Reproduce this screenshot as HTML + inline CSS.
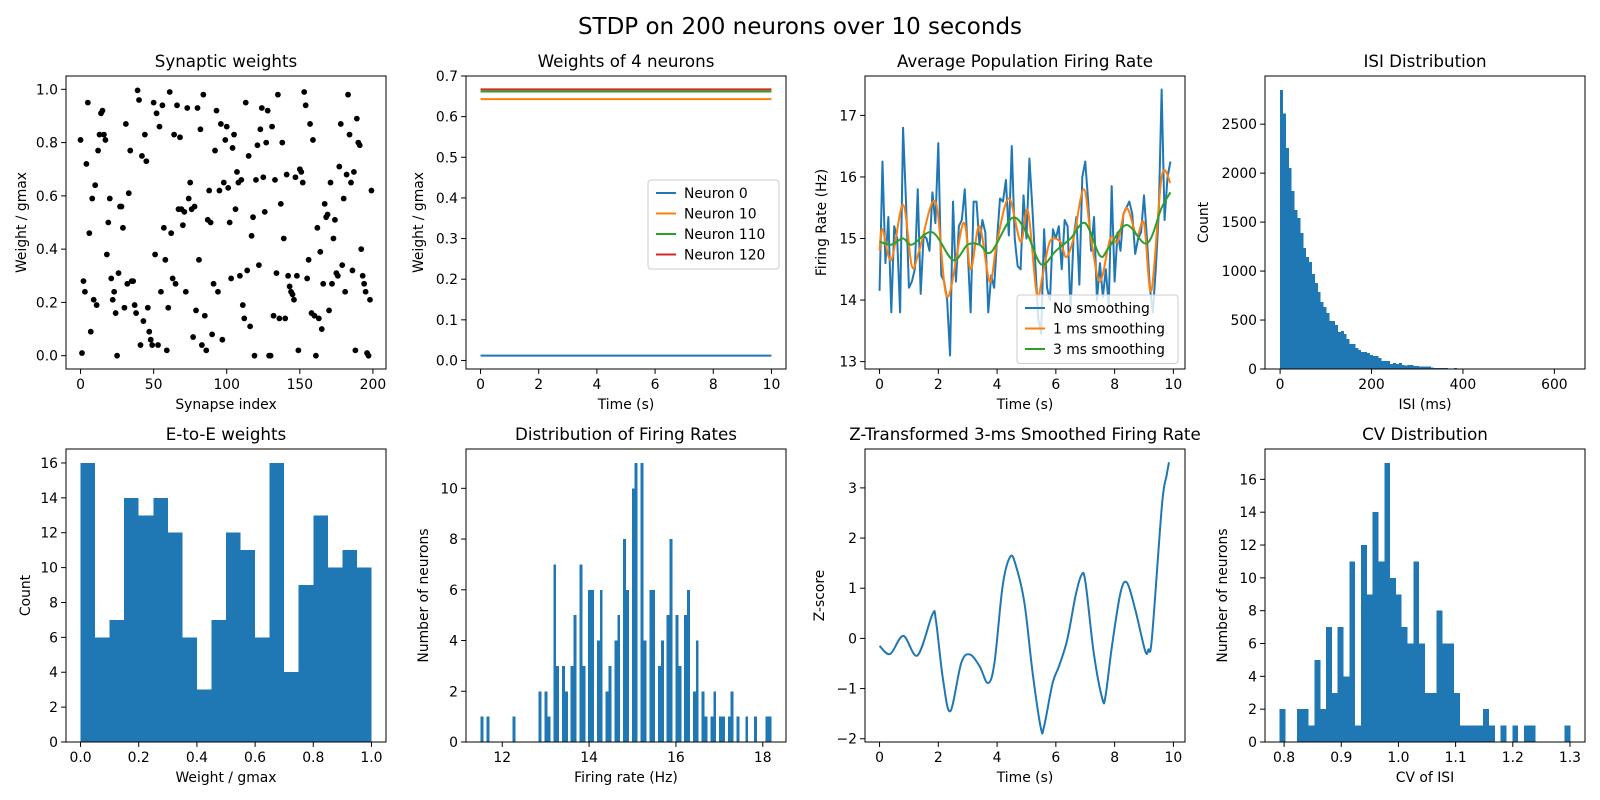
<!DOCTYPE html>
<html><head><meta charset="utf-8"><title>STDP on 200 neurons</title>
<style>
html,body{margin:0;padding:0;background:#fff;}
svg{display:block;font-family:"DejaVu Sans","Liberation Sans",sans-serif;}
</style></head>
<body>
<svg id="fig" width="1600" height="800" viewBox="0 0 1600 800" xmlns="http://www.w3.org/2000/svg">
<rect width="1600" height="800" fill="#fff"/>
<text x="800" y="34" text-anchor="middle" font-size="23">STDP on 200 neurons over 10 seconds</text>
</svg>
<script>
// ---------- data ----------
const synWeights=[.81,.01,.28,.24,.72,.95,.46,.09,.59,.21,.64,.19,.77,.83,.91,.92,.83,.81,.38,.50,.59,.29,.21,.24,.16,.00,.31,.56,.56,.48,.18,.87,.27,.61,.77,.28,.28,.19,.16,.996,.96,.04,.75,.13,.83,.73,.18,.09,.06,.04,.95,.38,.91,.04,.86,.24,.94,.48,.36,.02,.18,.99,.46,.29,.83,.27,.94,.55,.82,.55,.49,.54,.24,.93,.59,.65,.55,.07,.56,.17,.93,.36,.85,.04,.98,.15,.02,.51,.62,.50,.08,.27,.77,.92,.24,.62,.87,.06,.65,.81,.86,.63,.50,.29,.78,.83,.55,.69,.65,.30,.66,.19,.14,.95,.32,.75,.11,.45,.52,.00,.66,.79,.34,.85,.93,.67,.54,.80,.92,.00,.00,.86,.15,.66,.31,.98,.14,.57,.80,.44,.14,.68,.30,.26,.24,.23,.21,.67,.30,.02,.70,.69,.65,.99,.94,.29,.36,.87,.16,.81,.15,.00,.48,.14,.39,.10,.27,.57,.52,.53,.17,.65,.27,.44,.51,.31,.30,.71,.87,.34,.59,.24,.68,.98,.83,.65,.32,.69,.02,.89,.80,.79,.40,.30,.27,.24,.01,.00,.21,.62];
const neuronLabels=["Neuron 0","Neuron 10","Neuron 110","Neuron 120"];
const neuronWeights=[0.012,0.643,0.662,0.667];
const rateRaw=[14.15,16.25,14.6,15.35,13.8,15.2,15.0,13.8,16.8,15.6,14.2,14.3,14.5,15.8,14.1,15.05,15.0,14.8,15.75,15.25,16.55,14.4,14.3,14.0,13.1,15.6,14.3,15.2,15.3,15.8,14.8,13.8,15.6,15.6,14.9,15.3,15.1,13.8,14.4,14.2,15.0,15.65,15.6,15.95,15.05,16.5,15.0,14.55,14.5,15.7,15.0,16.3,15.5,14.6,13.7,13.45,15.15,14.2,14.0,15.15,15.0,15.2,14.5,15.3,15.2,13.8,15.0,15.35,14.25,16.0,16.25,15.6,14.8,15.35,14.0,14.6,14.05,14.5,13.9,15.85,14.3,15.1,14.8,15.4,15.5,15.6,15.4,14.75,15.0,15.1,15.7,15.0,14.2,13.8,14.5,15.4,17.42,15.3,16.0,16.25];
const rate1msT=[0,0.1,0.4,0.8,1.1,1.35,1.9,2.3,2.85,3.1,3.4,3.75,4.0,4.4,4.8,5.05,5.35,5.55,5.8,6.15,6.35,6.6,6.95,7.2,7.5,7.85,8.1,8.4,8.75,9.0,9.25,9.6,9.9];
const rate1msV=[14.8,15.15,14.65,15.55,14.55,14.8,15.6,14.05,15.25,14.5,15.2,14.3,14.95,15.65,14.95,15.45,14.1,14.4,14.95,14.95,14.7,15.0,15.8,15.0,14.3,15.0,14.95,15.5,15.05,15.25,14.15,16.0,15.9];
const rate3msT=[0,0.4,0.8,1.1,1.8,2.5,3.0,3.4,3.8,4.5,5.0,5.5,6.0,6.5,7.0,7.5,7.8,8.4,9.1,9.6,9.9];
const rate3msV=[14.95,14.9,15.0,14.9,15.1,14.65,14.9,14.9,14.78,15.33,15.1,14.58,14.8,15.0,15.25,14.72,14.85,15.22,14.92,15.5,15.75];
const isiCounts=[2850,2608,2257,2053,1818,1624,1542,1389,1236,1144,1093,970,878,786,684,633,572,490,490,449,378,388,357,306,255,255,214,194,174,174,163,143,133,133,112,82,82,82,51,61,51,61,41,34,41,41,31,31,24,24,24,24,14,12,10,10,8,9,7,6,8,5,6,5,4,5,4,3,4,3,3,3,0,0,3,0,0,0,0,0,0,0,2,0,0,0,0,2,0,0,0,0,0,0,0,0,0,0,0,1];
const eeCounts=[16,6,7,14,13,14,12,6,3,7,12,11,6,16,4,9,13,10,11,10];
const frBins=[0,2,11,20,22,23,25,26,28,29,31,32,34,35,37,38,40,41,43,44,46,47,49,50,52,53,55,56,58,59,61,62,64,65,67,68,70,71,73,74,76,77,79,80,82,83,85,86,88,91,94,98,99];
const frCounts=[1,1,1,2,2,1,7,3,3,2,3,5,7,3,6,6,4,6,2,3,4,5,8,6,10,11,11,4,6,6,3,4,5,8,5,3,5,6,2,4,2,1,1,2,1,1,1,2,1,1,1,1,1];
const zT=[0,0.36,0.81,1.29,1.80,1.92,2.16,2.41,2.78,3.07,3.40,3.69,3.91,4.19,4.45,4.64,4.93,5.21,5.49,5.60,5.89,6.11,6.39,6.67,6.88,7.01,7.29,7.58,7.69,7.91,8.20,8.42,8.70,9.04,9.15,9.27,9.61,9.77,9.85];
const zV=[-0.15,-0.31,0.05,-0.34,0.48,0.35,-0.82,-1.45,-0.49,-0.32,-0.55,-0.89,-0.49,1.05,1.63,1.45,0.71,-0.69,-1.79,-1.75,-0.89,-0.55,-0.02,0.85,1.27,1.11,-0.29,-1.20,-1.15,-0.15,0.91,1.11,0.58,-0.25,-0.22,0.01,2.65,3.25,3.51];
const cvCounts=[2,0,0,2,2,1,5,2,7,3,7,4,11,1,12,9,14,11,17,10,9,7,6,11,6,3,3,8,6,6,3,1,1,1,1,2,1,0,1,0,1,0,1,1,0,0,0,0,0,1];

// ---------- helpers ----------
const NS="http://www.w3.org/2000/svg";
const svg=document.getElementById('fig');
const C0="#1f77b4",C1="#ff7f0e",C2="#2ca02c",C3="#d62728";
function el(tag,attrs,parent){const e=document.createElementNS(NS,tag);for(const k in attrs)e.setAttribute(k,attrs[k]);(parent||svg).appendChild(e);return e;}
function mkAxes(name,L,T,W,H,xl,yl){
  const g=el('g',{});
  
  
  const sx=v=>L+(v-xl[0])/(xl[1]-xl[0])*W;
  const sy=v=>T+H-(v-yl[0])/(yl[1]-yl[0])*H;
  return {g,sx,sy,L,T,W,H};
}
function finish(a,xt,yt,fx,fy,title,xlabel,ylabel,ylx){
  const {g,sx,sy,L,T,W,H}=a;
  const fr=el('rect',{x:L,y:T,width:W,height:H,fill:'none',stroke:'#000','stroke-width':1},g);
  
  
  xt.forEach(v=>{const x=sx(v);
    el('line',{x1:x,x2:x,y1:T+H,y2:T+H+4.9,stroke:'#000','stroke-width':1},g);
    const t=el('text',{x:x,y:T+H+20,'text-anchor':'middle','font-size':13.9,fill:'#000'},g);
    
    
    t.textContent=fx(v);});
  yt.forEach(v=>{const y=sy(v);
    el('line',{x1:L-4.9,x2:L,y1:y,y2:y,stroke:'#000','stroke-width':1},g);
    const t=el('text',{x:L-8,y:y+5,'text-anchor':'end','font-size':13.9,fill:'#000'},g);
    
    
    t.textContent=fy(v);});
  const tt=el('text',{x:L+W/2,y:T-9,'text-anchor':'middle','font-size':16.7},g);
  
  
  tt.textContent=title;
  const xlab=el('text',{x:L+W/2,y:T+H+40,'text-anchor':'middle','font-size':13.9},g);
  
  
  xlab.textContent=xlabel;
  const ylab=el('text',{x:0,y:0,'text-anchor':'middle','font-size':13.9,transform:`translate(${ylx},${T+H/2}) rotate(-90)`,'dominant-baseline':'central'},g);
  
  
  ylab.textContent=ylabel;
}
function range(a,b,s){const r=[];for(let v=a;v<=b+1e-9;v+=s)r.push(+v.toFixed(6));return r;}
function poly(a,xs,ys,color,name,smooth){
  let d='';
  const P=xs.map((x,i)=>[a.sx(x),a.sy(ys[i])]);
  if(!smooth){d=P.map((p,i)=>(i?'L':'M')+p[0].toFixed(2)+' '+p[1].toFixed(2)).join('');}
  else{d='M'+P[0][0]+' '+P[0][1];
    for(let i=0;i<P.length-1;i++){const p0=P[Math.max(0,i-1)],p1=P[i],p2=P[i+1],p3=P[Math.min(P.length-1,i+2)];
      const c1=[p1[0]+(p2[0]-p0[0])/6,p1[1]+(p2[1]-p0[1])/6],c2=[p2[0]-(p3[0]-p1[0])/6,p2[1]-(p3[1]-p1[1])/6];
      d+=`C${c1[0].toFixed(2)} ${c1[1].toFixed(2)} ${c2[0].toFixed(2)} ${c2[1].toFixed(2)} ${p2[0].toFixed(2)} ${p2[1].toFixed(2)}`;}}
  const p=el('path',{d:d,fill:'none',stroke:color,'stroke-width':2,'stroke-linejoin':'round'},a.g);
  
  
}
function bar(a,x0,x1,h,name){
  const r=el('rect',{x:a.sx(x0),y:a.sy(h),width:Math.max(0,a.sx(x1)-a.sx(x0)),height:a.sy(0)-a.sy(h),fill:C0,'shape-rendering':'crispEdges'},a.g);
  
  
}
function legend(a,x,y,w,labels,colors){
  const lg=el('g',{},a.g);
  
  
  el('rect',{x:x,y:y,width:w,height:labels.length*20.5+7,rx:3,fill:'#fff','fill-opacity':0.8,stroke:'#ccc'},lg);
  labels.forEach((l,i)=>{const yy=y+13+i*20.5;
    const ln=el('line',{x1:x+8,x2:x+28,y1:yy,y2:yy,stroke:colors[i],'stroke-width':2},lg);
    
    
    const t=el('text',{x:x+36,y:yy+5,'font-size':13.9},lg);
    
    
    t.textContent=l;});
}
const f1=v=>v.toFixed(1), f0=v=>String(v), fm=v=>(v<0?'\u2212':'')+Math.abs(v);
const R1T=76,R1H=293,R2T=449,R2H=293,CL=[66,466,865,1265],CW=320;

// 1 Synaptic weights
{const a=mkAxes('synaptic-weights-panel',CL[0],R1T,CW,R1H,[-9.95,208.95],[-0.05,1.05]);
 synWeights.forEach((w,i)=>{const c=el('circle',{cx:a.sx(i),cy:a.sy(w),r:2.9,fill:'#000'},a.g);
   
   });
 finish(a,range(0,200,50),range(0,1,0.2),f0,f1,'Synaptic weights','Synapse index','Weight / gmax',22);}
// 2 Weights of 4 neurons
{const a=mkAxes('neuron-weights-panel',CL[1],R1T,CW,R1H,[-0.5,10.5],[-0.021,0.70]);
 const cols=[C0,C1,C2,C3];
 neuronWeights.forEach((w,i)=>poly(a,[0,10],[w,w],cols[i],'weight-line-'+i));
 legend(a,648,180,131,neuronLabels,cols);
 finish(a,range(0,10,2),range(0,0.7,0.1),f0,f1,'Weights of 4 neurons','Time (s)','Weight / gmax',419);}
// 3 Average population firing rate
{const a=mkAxes('population-rate-panel',CL[2],R1T,CW,R1H,[-0.495,10.395],[12.88,17.64]);
 poly(a,rateRaw.map((v,i)=>i*0.1),rateRaw,C0,'no-smoothing-line');
 poly(a,rate1msT,rate1msV,C1,'smoothing-1ms-line',true);
 poly(a,rate3msT,rate3msV,C2,'smoothing-3ms-line',true);
 legend(a,1017,295,161,['No smoothing','1 ms smoothing','3 ms smoothing'],[C0,C1,C2]);
 finish(a,range(0,10,2),range(13,17,1),f0,f0,'Average Population Firing Rate','Time (s)','Firing Rate (Hz)',822);}
// 4 ISI distribution
{const bw=6.34;const a=mkAxes('isi-panel',CL[3],R1T,CW,R1H,[-33,667],[0,2992]);
 isiCounts.forEach((c,i)=>{if(c>0)bar(a,i*bw,(i+1)*bw,c,'isi-bar');});
 finish(a,range(0,600,200),range(0,2500,500),f0,f0,'ISI Distribution','ISI (ms)','Count',1204);}
// 5 E-to-E weights
{const a=mkAxes('ee-weights-panel',CL[0],R2T,CW,R2H,[-0.05,1.05],[0,16.8]);
 eeCounts.forEach((c,i)=>bar(a,i*0.05,(i+1)*0.05,c,'ee-bar'));
 finish(a,range(0,1,0.2),range(0,16,2),f1,f0,'E-to-E weights','Weight / gmax','Count',26);}
// 6 Firing rate distribution
{const s=11.5,bw=0.067;const a=mkAxes('firing-rate-dist-panel',CL[1],R2T,CW,R2H,[11.165,18.535],[0,11.55]);
 frBins.forEach((b,i)=>bar(a,s+b*bw,s+(b+1)*bw,frCounts[i],'firing-rate-bar'));
 finish(a,range(12,18,2),range(0,10,2),f0,f0,'Distribution of Firing Rates','Firing rate (Hz)','Number of neurons',424);}
// 7 Z-score
{const a=mkAxes('zscore-panel',CL[2],R2T,CW,R2H,[-0.495,10.395],[-2.065,3.775]);
 poly(a,zT,zV,C0,'zscore-line',true);
 finish(a,range(0,10,2),range(-2,3,1),f0,fm,'Z-Transformed 3-ms Smoothed Firing Rate','Time (s)','Z-score',820);}
// 8 CV distribution
{const s=0.792,bw=0.01018;const a=mkAxes('cv-panel',CL[3],R2T,CW,R2H,[0.7666,1.3263],[0,17.85]);
 cvCounts.forEach((c,i)=>{if(c>0)bar(a,s+i*bw,s+(i+1)*bw,c,'cv-bar');});
 finish(a,range(0.8,1.3,0.1),range(0,16,2),f1,f0,'CV Distribution','CV of ISI','Number of neurons',1223);}
</script>
</body></html>
